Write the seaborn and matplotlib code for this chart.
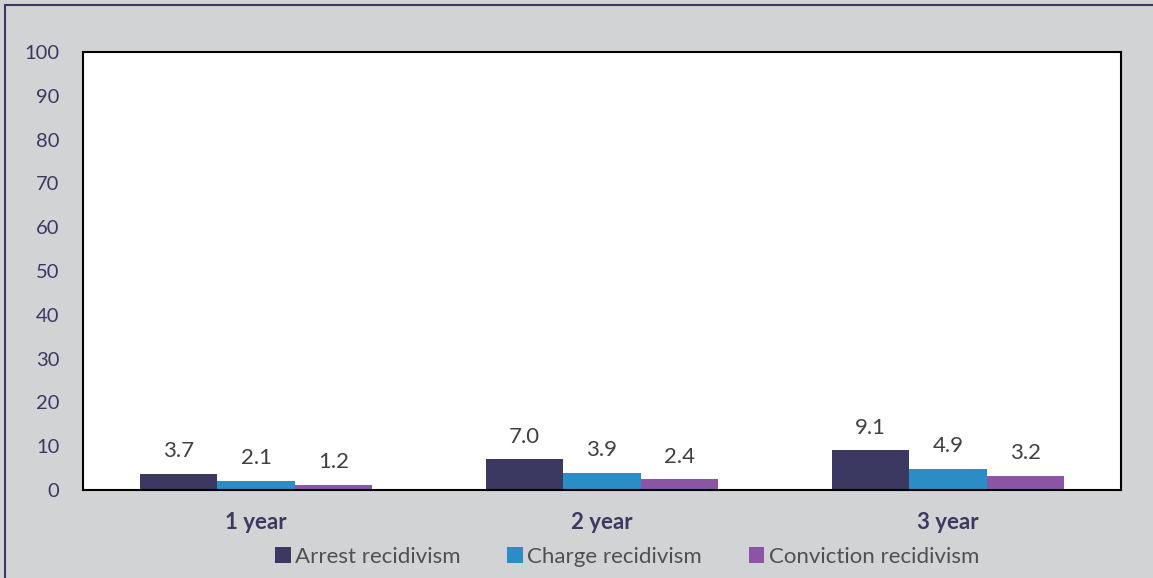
import matplotlib
matplotlib.use("Agg")
import matplotlib.pyplot as plt
import seaborn as sns
import pandas as pd
from matplotlib.patches import Rectangle

categories = ["1 year", "2 year", "3 year"]
series = ["Arrest recidivism", "Charge recidivism", "Conviction recidivism"]
arrest = [3.7, 7.0, 9.1]
charge = [2.1, 3.9, 4.9]
conviction = [1.2, 2.4, 3.2]
yticks = [0, 10, 20, 30, 40, 50, 60, 70, 80, 90, 100]
colors = ["#3b3862", "#2a8dc5", "#8a55a5"]

rows = []
for s, vals in zip(series, [arrest, charge, conviction]):
    for c, v in zip(categories, vals):
        rows.append({"Period": c, "Series": s, "Value": v})
df = pd.DataFrame(rows)

sns.set_style("white")
plt.rcParams["font.family"] = ["Lato", "DejaVu Sans"]

fig = plt.figure(figsize=(11.53, 5.78), dpi=100, facecolor="#d2d3d5")
fig.patches.append(Rectangle((5/1153, -0.1), 1.2, 1 - 5/578 + 0.1, transform=fig.transFigure,
                             fill=False, edgecolor="#3b3862", linewidth=1.5, zorder=0))
ax = fig.add_axes([83/1153, 1 - 490/578, (1121-83)/1153, (490-52)/578])
ax.set_facecolor("white")

sns.barplot(data=df, x="Period", y="Value", hue="Series", order=categories,
            hue_order=series, palette=colors, width=0.67, saturation=1,
            linewidth=0, ax=ax, legend=True)

for cont in ax.containers:
    for bar in cont:
        h = bar.get_height()
        ax.annotate(f"{h:.1f}", (bar.get_x() + bar.get_width()/2, h),
                    xytext=(0, 9), textcoords="offset points",
                    ha="center", va="bottom", fontsize=16, color="#404040")

ax.set_ylim(0, 100)
ax.set_yticks(yticks)
ax.set_yticklabels([str(t) for t in yticks], fontsize=14.5, color="#3b3862")
ax.set_xticks(range(len(categories)))
ax.set_xticklabels(categories, fontsize=16, fontweight="bold", color="#3b3862")
ax.tick_params(axis="y", length=0, pad=17)
ax.tick_params(axis="x", length=0, pad=16)
ax.set_xlabel("")
ax.set_ylabel("")
ax.set_xlim(-0.5, 2.5)
for sp in ax.spines.values():
    sp.set_visible(True)
    sp.set_color("black")
    sp.set_linewidth(1.5)

ax.legend_.remove()
handles, labels = ax.get_legend_handles_labels()
fig.legend(handles, labels, loc="center", bbox_to_anchor=(0.544, 1 - 557/578), ncol=3,
           frameon=False, fontsize=16, handlelength=0.7, handleheight=0.7,
           handletextpad=0.2, columnspacing=2.1, labelcolor="#505050")

fig.savefig("out.png", dpi=100, facecolor=fig.get_facecolor())
